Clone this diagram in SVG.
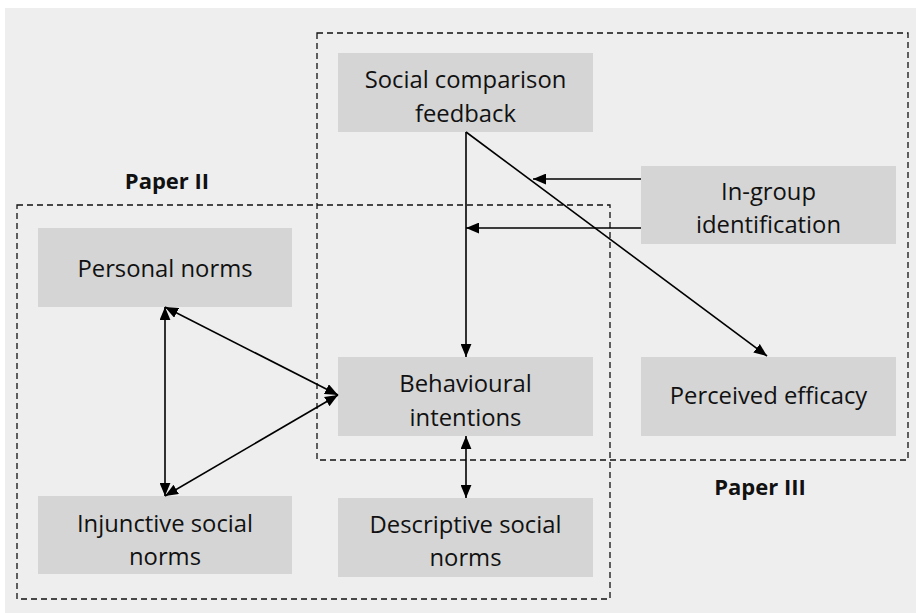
<svg xmlns="http://www.w3.org/2000/svg" width="916" height="613" viewBox="0 0 916 613">
<defs>
<style>
.box{fill:#d5d5d5}
.t{font-family:"Open Sans","Liberation Sans",sans-serif;font-size:23.8px;fill:#111;text-anchor:middle}
.lbl{font-family:"Open Sans","Liberation Sans",sans-serif;font-size:22px;font-weight:bold;fill:#111;text-anchor:middle}
.dash{fill:none;stroke:#111;stroke-width:1.3;stroke-dasharray:6 4}
.c{fill:none;stroke:#000;stroke-width:1.6}
</style>
<marker id="ah" viewBox="0 0 12 10" refX="12" refY="5" markerWidth="13" markerHeight="11" markerUnits="userSpaceOnUse" orient="auto-start-reverse">
<path d="M0,0 L12,5 L0,10 Z" fill="#000"/>
</marker>
</defs>
<rect x="0" y="0" width="916" height="613" fill="#fff"/>
<rect x="5" y="8" width="911" height="605" fill="#eeeeee"/>

<g id="paper3"><rect class="dash" x="317" y="33" width="591" height="427"/><text class="lbl" x="760" y="495">Paper III</text></g>
<g id="paper2"><rect class="dash" x="17" y="205" width="593" height="394"/><text class="lbl" x="167" y="189">Paper II</text></g>

<g id="social-comparison"><rect class="box" x="338" y="53" width="255" height="79"/><text class="t" x="465.5" y="88">Social comparison</text><text class="t" x="465.5" y="122">feedback</text></g>
<g id="in-group"><rect class="box" x="641" y="166" width="255" height="78"/><text class="t" x="768.5" y="200">In-group</text><text class="t" x="768.5" y="233">identification</text></g>
<g id="personal-norms"><rect class="box" x="38" y="228" width="254" height="79"/><text class="t" x="165" y="277">Personal norms</text></g>
<g id="behavioural"><rect class="box" x="338" y="357" width="255" height="79"/><text class="t" x="465.5" y="392">Behavioural</text><text class="t" x="465.5" y="426">intentions</text></g>
<g id="perceived-efficacy"><rect class="box" x="641" y="357" width="255" height="79"/><text class="t" x="768.5" y="404">Perceived efficacy</text></g>
<g id="injunctive"><rect class="box" x="38" y="496" width="254" height="78"/><text class="t" x="165" y="532">Injunctive social</text><text class="t" x="165" y="565">norms</text></g>
<g id="descriptive"><rect class="box" x="338" y="498" width="255" height="79"/><text class="t" x="465.5" y="533">Descriptive social</text><text class="t" x="465.5" y="566">norms</text></g>

<g id="connectors">
<line class="c" x1="466" y1="132" x2="466" y2="357" marker-end="url(#ah)"/>
<line class="c" x1="466" y1="132" x2="767" y2="356" marker-end="url(#ah)"/>
<line class="c" x1="641" y1="179" x2="533" y2="179" marker-end="url(#ah)"/>
<line class="c" x1="641" y1="228" x2="466" y2="228" marker-end="url(#ah)"/>
<line class="c" x1="165" y1="307" x2="165" y2="496" marker-start="url(#ah)" marker-end="url(#ah)"/>
<line class="c" x1="165" y1="307" x2="338" y2="395" marker-start="url(#ah)" marker-end="url(#ah)"/>
<line class="c" x1="165" y1="496" x2="338" y2="395" marker-start="url(#ah)" marker-end="url(#ah)"/>
<line class="c" x1="466" y1="436" x2="466" y2="498" marker-start="url(#ah)" marker-end="url(#ah)"/>
</g>
</svg>
